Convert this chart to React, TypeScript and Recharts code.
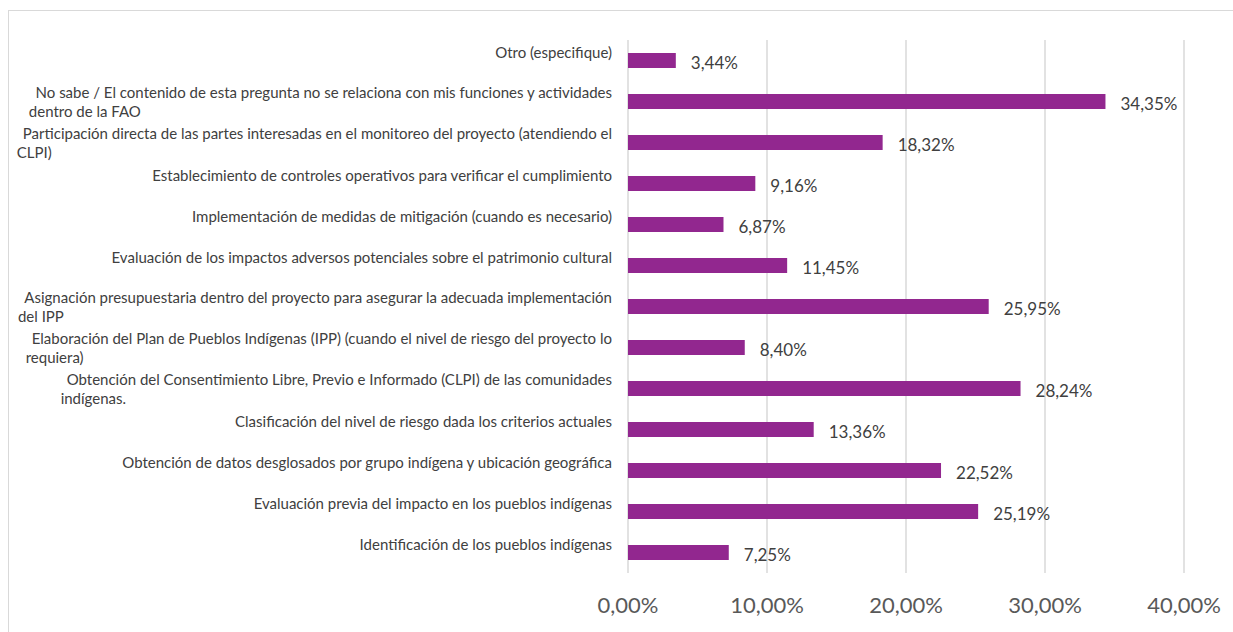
import { Bar, BarChart, CartesianGrid, LabelList, XAxis, YAxis } from 'recharts'

const categories = [
  'Otro (especifique)',
  'No sabe / El contenido de esta pregunta no se relaciona con mis funciones y actividades\ndentro de la FAO',
  'Participación directa de las partes interesadas en el monitoreo del proyecto (atendiendo el\nCLPI)',
  'Establecimiento de controles operativos para verificar el cumplimiento',
  'Implementación de medidas de mitigación (cuando es necesario)',
  'Evaluación de los impactos adversos potenciales sobre el patrimonio cultural',
  'Asignación presupuestaria dentro del proyecto para asegurar la adecuada implementación\ndel IPP',
  'Elaboración del Plan de Pueblos Indígenas (IPP) (cuando el nivel de riesgo del proyecto lo\nrequiera)',
  'Obtención del Consentimiento Libre, Previo e Informado (CLPI) de las comunidades\nindígenas.',
  'Clasificación del nivel de riesgo dada los criterios actuales',
  'Obtención de datos desglosados por grupo indígena y ubicación geográfica',
  'Evaluación previa del impacto en los pueblos indígenas',
  'Identificación de los pueblos indígenas',
]

const percentages = [3.44, 34.35, 18.32, 9.16, 6.87, 11.45, 25.95, 8.4, 28.24, 13.36, 22.52, 25.19, 7.25]

const xTicks = [0, 10, 20, 30, 40]

const data = categories.map((name, i) => ({ name, value: percentages[i] }))

const FONT = 'Lato, "Noto Sans", sans-serif'
const CAT_SIZE = 15
const LABEL_RIGHT = 612

const ctx = typeof document !== 'undefined' ? document.createElement('canvas').getContext('2d') : null
function textWidth(text: string) {
  if (!ctx) return text.length * 7
  ctx.font = `${CAT_SIZE}px Lato`
  return ctx.measureText(text).width
}

const pct = (v: number) => v.toFixed(2).replace('.', ',') + '%'

function CategoryTick(props: any) {
  const { y, payload } = props
  const lines = String(payload.value).split('\n')
  if (lines.length === 1) {
    return (
      <text x={LABEL_RIGHT} y={y - 9} textAnchor="end" dominantBaseline="central"
        fontFamily={FONT} fontSize={CAT_SIZE} fill="#404040">
        {lines[0]}
      </text>
    )
  }
  const start = LABEL_RIGHT - textWidth(lines[0])
  return (
    <g fontFamily={FONT} fontSize={CAT_SIZE} fill="#404040">
      <text x={LABEL_RIGHT} y={y - 10} textAnchor="end" dominantBaseline="central">{lines[0]}</text>
      <text x={start - 6} y={y + 9} textAnchor="start" dominantBaseline="central">{lines[1]}</text>
    </g>
  )
}

function ValueLabel(props: any) {
  const { x, y, width, height, value } = props
  return (
    <text x={x + width + 15} y={y + height / 2 + 2} dominantBaseline="central"
      fontFamily={FONT} fontSize={17} fill="#404040">
      {pct(value)}
    </text>
  )
}

export default function App() {
  return (
    <div style={{ position: 'fixed', left: 0, top: 0, width: 1233, height: 632, overflow: 'hidden', background: '#fff' }}>
      <div style={{ position: 'absolute', left: 8, top: 10, width: 1300, height: 700, border: '1px solid #d9d9d9' }} />
      <div style={{ position: 'absolute', left: 0, top: 0 }}>
        <BarChart width={1233} height={632} data={data} layout="vertical"
          margin={{ top: 40, right: 49, bottom: 19, left: 0 }} barCategoryGap={13}>
          <CartesianGrid horizontal={false} stroke="#d9d9d9" strokeWidth={1.5} />
          <XAxis type="number" domain={[0, 40]} ticks={xTicks} tickFormatter={pct}
            axisLine={false} tickLine={false} tickSize={0} tickMargin={24} height={40}
            tick={{ fontFamily: FONT, fontSize: 22, fill: '#595959' }} />
          <YAxis type="category" dataKey="name" width={628} interval={0}
            axisLine={false} tickLine={false} tick={<CategoryTick />} />
          <Bar dataKey="value" fill="#92278F" barSize={15} isAnimationActive={false}>
            <LabelList dataKey="value" content={<ValueLabel />} />
          </Bar>
        </BarChart>
      </div>
    </div>
  )
}
